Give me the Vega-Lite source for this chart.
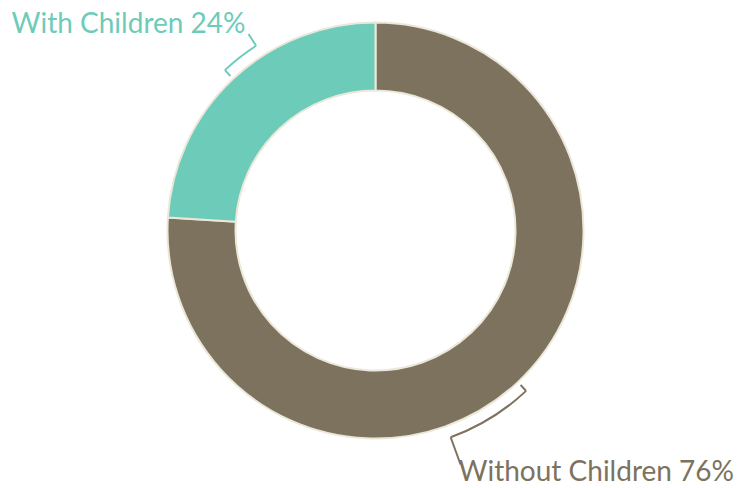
{
  "$schema": "https://vega.github.io/schema/vega-lite/v6.json",
  "width": 749,
  "height": 461,
  "autosize": {"type": "none"},
  "padding": {"left": 1, "top": 0, "right": 0, "bottom": 27},
  "background": "white",
  "view": {"stroke": null},
  "config": {"text": {"font": "Lato", "fontSize": 28}},
  "data": {
    "values": [
      {"category": "Without Children", "value": 76, "order": 1, "label": "Without Children 76%", "calloutStart": 38.0, "calloutEnd": 44.45},
      {"category": "With Children", "value": 24, "order": 2, "label": "With Children 24%", "calloutStart": 88.0, "calloutEnd": 90.87}
    ]
  },
  "encoding": {
    "color": {
      "field": "category",
      "type": "nominal",
      "scale": {"domain": ["Without Children", "With Children"], "range": ["#7d725e", "#6dccb9"]},
      "legend": null
    }
  },
  "layer": [
    {
      "mark": {"type": "arc", "innerRadius": 140, "outerRadius": 208, "stroke": "#ebe7d9", "strokeWidth": 2},
      "encoding": {
        "theta": {"field": "value", "type": "quantitative", "stack": true, "scale": {"domain": [0, 100]}},
        "order": {"field": "order", "type": "quantitative"}
      }
    },
    {
      "mark": {"type": "arc", "innerRadius": 219, "outerRadius": 221},
      "encoding": {
        "theta": {"field": "calloutStart", "type": "quantitative", "stack": null, "scale": {"domain": [0, 100]}},
        "theta2": {"field": "calloutEnd"}
      }
    },
    {
      "mark": {"type": "arc", "innerRadius": 212, "outerRadius": 220, "filled": false, "strokeWidth": 2},
      "encoding": {
        "theta": {"field": "calloutStart", "type": "quantitative", "stack": null, "scale": {"domain": [0, 100]}},
        "theta2": {"field": "calloutStart"}
      }
    },
    {
      "transform": [{"filter": "datum.category === 'With Children'"}],
      "mark": {"type": "arc", "innerRadius": 220, "outerRadius": 234, "filled": false, "strokeWidth": 2},
      "encoding": {
        "theta": {"field": "calloutEnd", "type": "quantitative", "stack": null, "scale": {"domain": [0, 100]}},
        "theta2": {"field": "calloutEnd"}
      }
    },
    {
      "transform": [{"filter": "datum.category === 'Without Children'"}],
      "mark": {"type": "arc", "innerRadius": 220, "outerRadius": 249, "filled": false, "strokeWidth": 2},
      "encoding": {
        "theta": {"field": "calloutEnd", "type": "quantitative", "stack": null, "scale": {"domain": [0, 100]}},
        "theta2": {"field": "calloutEnd"}
      }
    },
    {
      "transform": [{"filter": "datum.category === 'With Children'"}],
      "mark": {"type": "text", "radius": 234, "align": "right", "baseline": "alphabetic", "dx": -3, "dy": -1},
      "encoding": {
        "theta": {"field": "calloutEnd", "type": "quantitative", "stack": null, "scale": {"domain": [0, 100]}},
        "text": {"field": "label"}
      }
    },
    {
      "transform": [{"filter": "datum.category === 'Without Children'"}],
      "mark": {"type": "text", "radius": 249, "align": "left", "baseline": "alphabetic", "dx": -2, "dy": 16},
      "encoding": {
        "theta": {"field": "calloutEnd", "type": "quantitative", "stack": null, "scale": {"domain": [0, 100]}},
        "text": {"field": "label"}
      }
    }
  ]
}
